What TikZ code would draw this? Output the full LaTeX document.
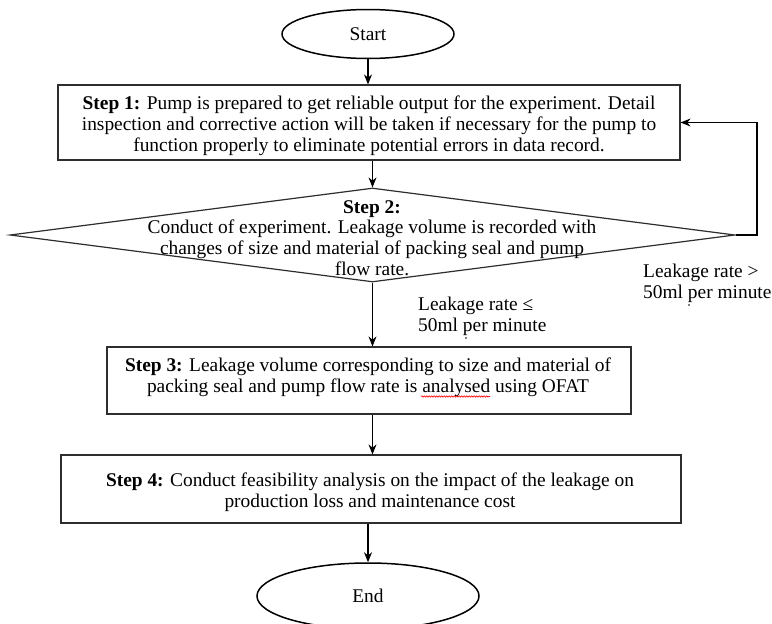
\documentclass[tikz,border=0pt]{standalone}
\usepackage{fontspec}
\setmainfont{Liberation Serif}
\usetikzlibrary{shapes.geometric,arrows.meta,decorations.pathmorphing}
\definecolor{linec}{HTML}{2E2E2E}
\begin{document}
\begin{tikzpicture}[x=1pt,y=-1pt,
  box/.style={draw=linec, line width=1.2pt, rectangle, inner sep=0pt},
  oval/.style={draw=black, line width=1.5pt, ellipse, inner sep=0pt},
  txt/.style={align=center, font=\fontsize{19.4}{20.8}\selectfont, inner sep=0pt},
  lbl/.style={align=left, font=\fontsize{19.4}{21}\selectfont, inner sep=0pt, anchor=west},
  arr/.style={draw=black, line width=1.2pt, -{Stealth[length=10pt,width=8pt]}},
  speck/.style={fill=black, draw=none, circle, inner sep=0pt, minimum size=1.8pt}]
\clip (0,0) rectangle (772,624);
\fill[white] (0,0) rectangle (772,624);
% shapes
\node[oval, minimum width=172, minimum height=49, font=\fontsize{19.4}{20}\selectfont] (st) at (368,34) {Start};
\node[box, minimum width=622, minimum height=75] (s1) at (369,122.5) {};
\node[diamond, draw=linec, line width=1.2pt, minimum width=725, minimum height=94, inner sep=0pt] (d) at (372.5,235) {};
\node[box, minimum width=524, minimum height=67] (s3) at (369,380.5) {};
\node[box, minimum width=620, minimum height=68] (s4) at (371,489) {};
\node[oval, minimum width=222, minimum height=66, font=\fontsize{19.4}{20}\selectfont] (en) at (368,596) {End};
% texts
\node[txt] (s1t) at (369,125.5) {\textbf{Step 1:} Pump is prepared to get reliable output for the experiment. Detail\\
inspection and corrective action will be taken if necessary for the pump to\\
function properly to eliminate potential errors in data record.};
\node[txt] (dt) at (372,238) {\textbf{Step 2:}\\
Conduct of experiment. Leakage volume is recorded with\\
changes of size and material of packing seal and pump\\
flow rate.};
\node[txt] (s3t) at (368,377.5) {\textbf{Step 3:} Leakage volume corresponding to size and material of\\
packing seal and pump flow rate is analysed using OFAT};
\node[txt] (s4t) at (370,492) {\textbf{Step 4:} Conduct feasibility analysis on the impact of the leakage on\\
production loss and maintenance cost};
\node[lbl] (lg) at (643,283.5) {Leakage rate >\\50ml per minute};
\node[lbl] (le) at (418,316.5) {Leakage rate ≤\\50ml per minute};
\node[speck] (dot1) at (689,305) {};
\node[speck] (dot2) at (466,338) {};
\draw[red, line width=0.6pt, decorate, decoration={snake, amplitude=0.7pt, segment length=2.5pt}] (421,396.5) -- (490,396.5);
% connectors
\coordinate (lp) at (757,235);
\draw[arr] (st.south) -- (st.south |- s1.north);
\draw[arr] (d.north |- s1.south) -- (d.north);
\draw[arr] (d.south) -- (d.south |- s3.north);
\draw[arr] (d.south |- s3.south) -- (d.south |- s4.north);
\draw[arr] (en.north |- s4.south) -- (en.north);
\draw[arr] (d.east) -- (lp) |- (s1.east);
\end{tikzpicture}
\end{document}
